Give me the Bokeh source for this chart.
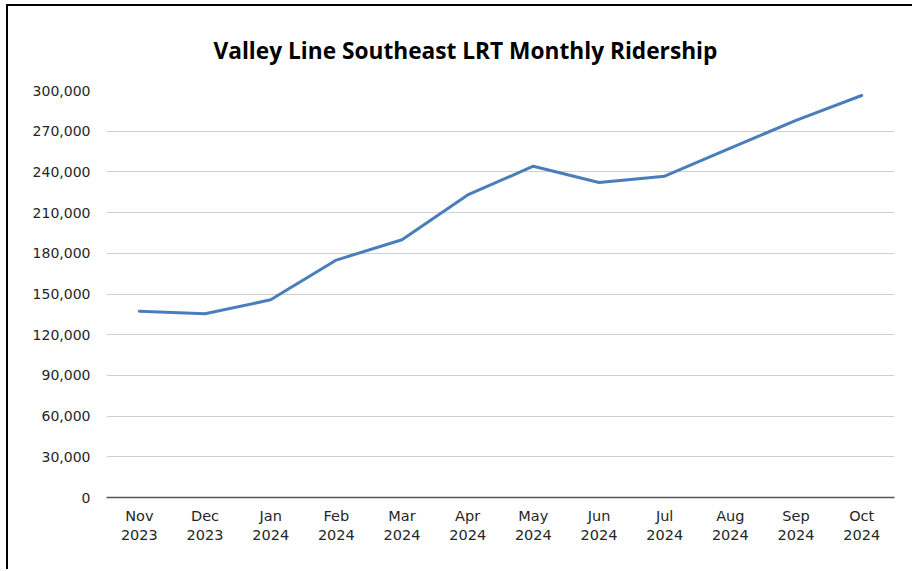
from bokeh.plotting import figure
from bokeh.models import NumeralTickFormatter, FixedTicker, Range1d, FactorRange, Title
from bokeh.embed import file_html
from bokeh.resources import INLINE

months = ["Nov", "Dec", "Jan", "Feb", "Mar", "Apr", "May", "Jun", "Jul", "Aug", "Sep", "Oct"]
years = ["2023", "2023", "2024", "2024", "2024", "2024", "2024", "2024", "2024", "2024", "2024", "2024"]
ridership = [137300, 135400, 145700, 175000, 190000, 223000, 244200, 232200, 236800, 257500, 278000, 296300]
y_ticks = [0, 30000, 60000, 90000, 120000, 150000, 180000, 210000, 240000, 270000, 300000]
title_text = "Valley Line Southeast LRT Monthly Ridership"

cats = [f"{m}\n{y}" for m, y in zip(months, years)]

p = figure(
    width=906, height=565,
    x_range=FactorRange(factors=cats, range_padding=0),
    y_range=Range1d(0, 300000),
    output_backend="svg", toolbar_location=None, title=None,
    min_border_left=98, min_border_right=20, min_border_top=84, min_border_bottom=74,
    styles={"margin-left": "6px", "margin-top": "4px",
            "border-left": "2px solid black", "border-top": "2px solid black"},
)
p.outline_line_color = None
p.background_fill_color = "white"
p.border_fill_color = "white"

p.line(x=cats, y=ridership, line_color="#4a7ebb", line_width=3, line_join="round", line_cap="round")

# y axis
p.yaxis.ticker = FixedTicker(ticks=y_ticks)
p.yaxis.formatter = NumeralTickFormatter(format="0,0")
p.yaxis.axis_line_color = None
p.yaxis.major_tick_line_color = None
p.yaxis.minor_tick_line_color = None
p.yaxis.major_label_standoff = 10
p.yaxis.major_label_text_font = "DejaVu Sans"
p.yaxis.major_label_text_font_size = "14px"
p.yaxis.major_label_text_color = "#262626"

# x axis
p.xaxis.axis_line_color = "#555555"
p.xaxis.axis_line_width = 1.5
p.xaxis.major_tick_line_color = None
p.xaxis.minor_tick_line_color = None
p.xaxis.major_label_standoff = 4
p.xaxis.major_label_text_font = "DejaVu Sans"
p.xaxis.major_label_text_font_size = "14.5px"
p.xaxis.major_label_text_color = "#262626"
p.xaxis.major_label_orientation = "horizontal"

p.xgrid.grid_line_color = None
p.ygrid.grid_line_color = "#cfcfcf"
p.ygrid.grid_line_width = 1

title = Title(text=title_text, align="left", offset=107, standoff=50,
              text_font="Open Sans", text_font_style="bold", text_font_size="22.7px", text_color="#000000")
p.add_layout(title, "above")

open("out.html", "w").write(file_html(p, INLINE))
